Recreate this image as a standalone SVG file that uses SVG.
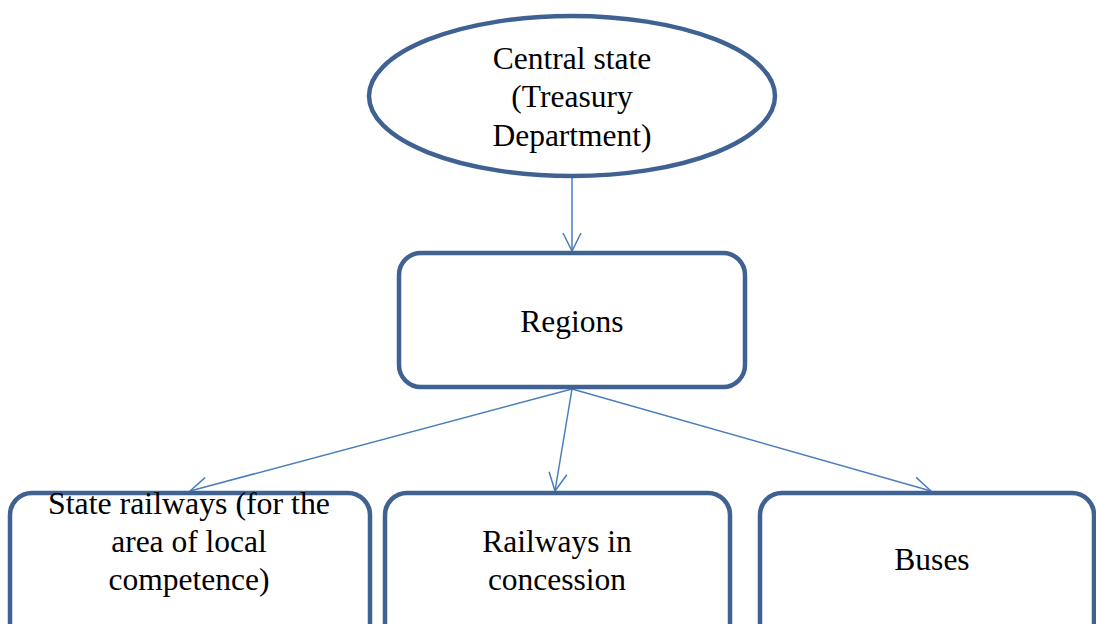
<svg xmlns="http://www.w3.org/2000/svg" width="1096" height="624" viewBox="0 0 1096 624">
<style>
.n{fill:#fff;stroke:#3f6292;stroke-width:4.5}
.c{stroke:#4a7ebb;stroke-width:1.5;fill:none}
text{font-family:"Liberation Serif","Times New Roman",serif;font-size:31.5px;fill:#000;text-anchor:middle}
</style>
<defs>
<marker id="a" markerUnits="userSpaceOnUse" markerWidth="24" markerHeight="24" viewBox="-20 -12 24 24" refX="0" refY="0" orient="auto">
<path d="M-18,-9 L0,0 L-18,9" fill="none" stroke="#4a7ebb" stroke-width="1.5"/>
</marker>
</defs>
<rect width="1096" height="624" fill="#fff"/>
<g id="connectors">
<line class="c" x1="572" y1="178" x2="572" y2="251" marker-end="url(#a)"/>
<line class="c" x1="572" y1="389" x2="190" y2="491" marker-end="url(#a)"/>
<line class="c" x1="572" y1="389" x2="555" y2="491" marker-end="url(#a)"/>
<line class="c" x1="572" y1="389" x2="931" y2="491" marker-end="url(#a)"/>
</g>
<g id="central">
<ellipse class="n" cx="572" cy="96" rx="203" ry="80"/>
<text x="572" y="69">Central state</text>
<text x="572" y="107">(Treasury</text>
<text x="572" y="146">Department)</text>
</g>
<g id="regions">
<rect class="n" x="399" y="253" width="346" height="134" rx="22"/>
<text x="572" y="332">Regions</text>
</g>
<g id="state-railways">
<rect class="n" x="10" y="493" width="360" height="160" rx="22"/>
<text x="189" y="514" textLength="282" lengthAdjust="spacingAndGlyphs">State railways (for the</text>
<text x="189" y="552">area of local</text>
<text x="189" y="590">competence)</text>
</g>
<g id="railways-concession">
<rect class="n" x="385" y="493" width="345" height="160" rx="22"/>
<text x="557" y="552">Railways in</text>
<text x="557" y="590">concession</text>
</g>
<g id="buses">
<rect class="n" x="760" y="493" width="334" height="160" rx="22"/>
<text x="932" y="570">Buses</text>
</g>
</svg>
